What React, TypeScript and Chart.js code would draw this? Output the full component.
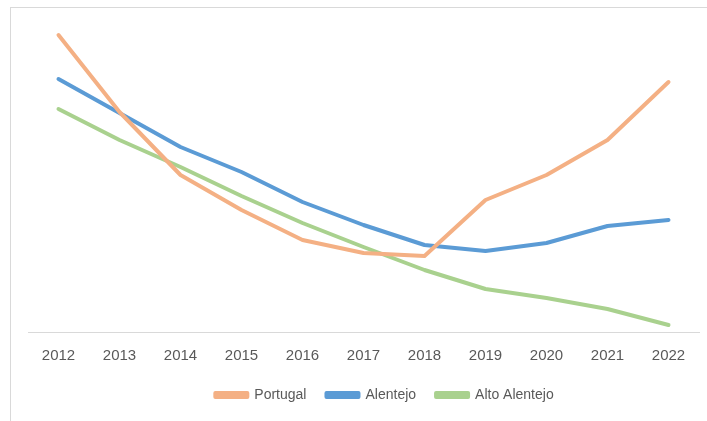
import React, { useEffect, useRef } from "react";
import { Chart, registerables } from "chart.js";

Chart.register(...registerables);

const years = ["2012", "2013", "2014", "2015", "2016", "2017", "2018", "2019", "2020", "2021", "2022"];
const portugal = [297, 220, 157, 122, 92, 79, 76, 132, 157, 192, 250];
const alentejo = [253, 219, 185, 160, 130, 107, 87, 81, 89, 106, 112];
const altoAlentejo = [223, 192, 165, 136, 109, 85, 62, 43, 34, 23, 7];
const seriesNames = ["Portugal", "Alentejo", "Alto Alentejo"];
const seriesColors = ["#F4B084", "#5B9BD5", "#A9D18E"];

const shiftLegend = {
  id: "shiftLegend",
  afterLayout(chart: any) {
    const l = chart.legend;
    if (l) {
      l.left += 21;
      l.right += 21;
    }
  },
};

export default function App() {
  const ref = useRef<HTMLCanvasElement | null>(null);
  useEffect(() => {
    if (!ref.current) return;
    const values = [portugal, alentejo, altoAlentejo];
    const chart = new Chart(ref.current, {
      type: "line",
      data: {
        labels: years,
        datasets: seriesNames.map((name, i) => ({
          label: name,
          data: values[i],
          borderColor: seriesColors[i],
          backgroundColor: seriesColors[i],
          borderWidth: 4,
          pointRadius: 0,
          tension: 0,
          borderCapStyle: "round" as const,
          borderJoinStyle: "round" as const,
          clip: false as any,
        })),
      },
      options: {
        animation: false,
        responsive: false,
        layout: { padding: { left: 28, right: 8, top: 22, bottom: 9 } },
        scales: {
          x: {
            offset: true,
            grid: { display: false, drawTicks: false },
            border: { display: true, color: "#d9d9d9", width: 1 },
            ticks: {
              padding: 15,
              color: "#595959",
              font: { family: "'Liberation Sans', Arial, sans-serif", size: 15 },
            },
            afterFit: (scale: any) => {
              scale.height = 36;
            },
          },
          y: { display: false, min: 0, max: 310 },
        },
        plugins: {
          legend: {
            position: "bottom",
            labels: {
              boxWidth: 32,
              boxHeight: 4,
              padding: 20,
              color: "#595959",
              font: { family: "'Liberation Sans', Arial, sans-serif", size: 14 },
            },
          },
          tooltip: { enabled: false },
        },
      },
      plugins: [shiftLegend],
    });
    return () => chart.destroy();
  }, []);
  return (
    <div style={{ position: "fixed", left: 0, top: 0, width: 707, height: 421, background: "#fff", overflow: "hidden" }}>
      <div
        style={{
          position: "absolute",
          left: 10,
          top: 7,
          right: 0,
          bottom: 0,
          borderTop: "1px solid #d9d9d9",
          borderLeft: "1px solid #d9d9d9",
        }}
      />
      <canvas ref={ref} width={707} height={421} style={{ position: "absolute", left: 0, top: 0 }} />
    </div>
  );
}
